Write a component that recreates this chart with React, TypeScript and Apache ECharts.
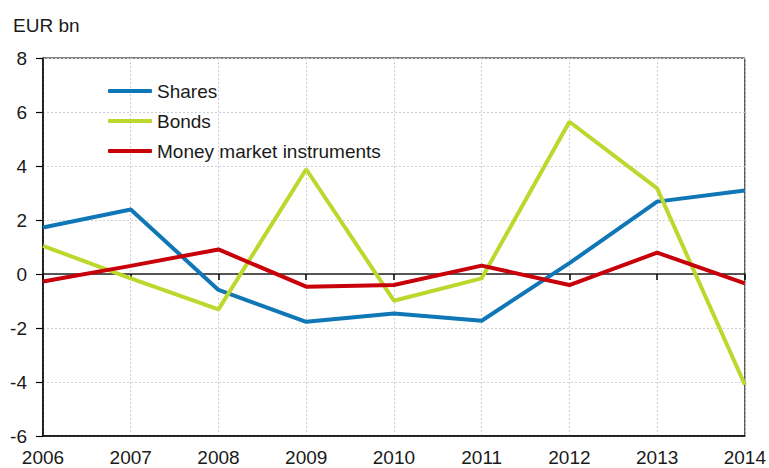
import React, { useEffect, useRef } from "react";
import * as echarts from "echarts";

const years = ["2006", "2007", "2008", "2009", "2010", "2011", "2012", "2013", "2014"];
const shares = [1.72, 2.39, -0.59, -1.77, -1.46, -1.73, 0.4, 2.68, 3.09];
const bonds = [1.04, -0.16, -1.31, 3.88, -0.99, -0.16, 5.64, 3.17, -4.1];
const money = [-0.28, 0.3, 0.91, -0.47, -0.41, 0.31, -0.41, 0.79, -0.35];
const unitLabel = "EUR bn";

const FONT = "'Liberation Sans', Arial, sans-serif";
const TXT = "#1a1a1a";

export default function App() {
  const ref = useRef<HTMLDivElement>(null);
  useEffect(() => {
    if (!ref.current) return;
    const chart = echarts.init(ref.current, null, { renderer: "svg" });
    const grid = "#cdcdd4";
    chart.setOption({
      animation: false,
      backgroundColor: "#fff",
      textStyle: { fontFamily: FONT },
      graphic: [
        {
          type: "text",
          left: 13,
          top: 16,
          style: { text: unitLabel, font: `19px ${FONT}`, fill: TXT },
        },
      ],
      grid: {
        left: 43,
        right: 23,
        top: 58,
        bottom: 32,
        show: true,
        borderColor: "#000",
        borderWidth: 1,
        backgroundColor: "transparent",
      },
      legend: {
        orient: "vertical",
        left: 108,
        top: 81,
        padding: 0,
        itemWidth: 44,
        itemHeight: 4,
        itemGap: 10,
        icon: "roundRect",
        textStyle: { fontSize: 19, fontFamily: FONT, color: TXT, lineHeight: 20 },
        data: ["Shares", "Bonds", "Money market instruments"],
      },
      xAxis: [
        {
          type: "category",
          data: years,
          boundaryGap: false,
          position: "bottom",
          axisLine: { onZero: false, lineStyle: { color: "#000", width: 1.5 } },
          axisTick: { show: false },
          axisLabel: { fontSize: 19, fontFamily: FONT, color: TXT, margin: 12, interval: 0 },
          splitLine: { show: true, lineStyle: { color: grid, type: [2, 2], width: 1 } },
        },
        {
          type: "category",
          data: years,
          boundaryGap: false,
          position: "bottom",
          axisLine: { onZero: true, lineStyle: { color: "#222", width: 1.5 } },
          axisTick: { show: true, length: 6, interval: 0, lineStyle: { color: "#000", width: 1.5 } },
          axisLabel: { show: false },
          splitLine: { show: false },
        },
      ],
      yAxis: {
        type: "value",
        min: -6,
        max: 8,
        interval: 2,
        axisLine: { show: true, lineStyle: { color: "#000", width: 1.5 } },
        axisTick: { show: true, length: 7, lineStyle: { color: "#000", width: 1.2 } },
        axisLabel: { fontSize: 19, fontFamily: FONT, color: TXT, margin: 16 },
        splitLine: { show: true, lineStyle: { color: grid, type: [2, 2], width: 1 } },
      },
      series: [
        {
          name: "Shares",
          type: "line",
          data: shares,
          xAxisIndex: 0,
          symbol: "none",
          lineStyle: { width: 4, color: "#0f77b5" },
          itemStyle: { color: "#0f77b5" },
        },
        {
          name: "Bonds",
          type: "line",
          data: bonds,
          xAxisIndex: 0,
          symbol: "none",
          lineStyle: { width: 4, color: "#bed72d" },
          itemStyle: { color: "#bed72d" },
        },
        {
          name: "Money market instruments",
          type: "line",
          data: money,
          xAxisIndex: 0,
          symbol: "none",
          lineStyle: { width: 4, color: "#c8000a" },
          itemStyle: { color: "#c8000a" },
        },
      ],
    });
    return () => chart.dispose();
  }, []);
  return <div ref={ref} style={{ width: 769, height: 468, position: "absolute", left: 0, top: 0 }} />;
}
